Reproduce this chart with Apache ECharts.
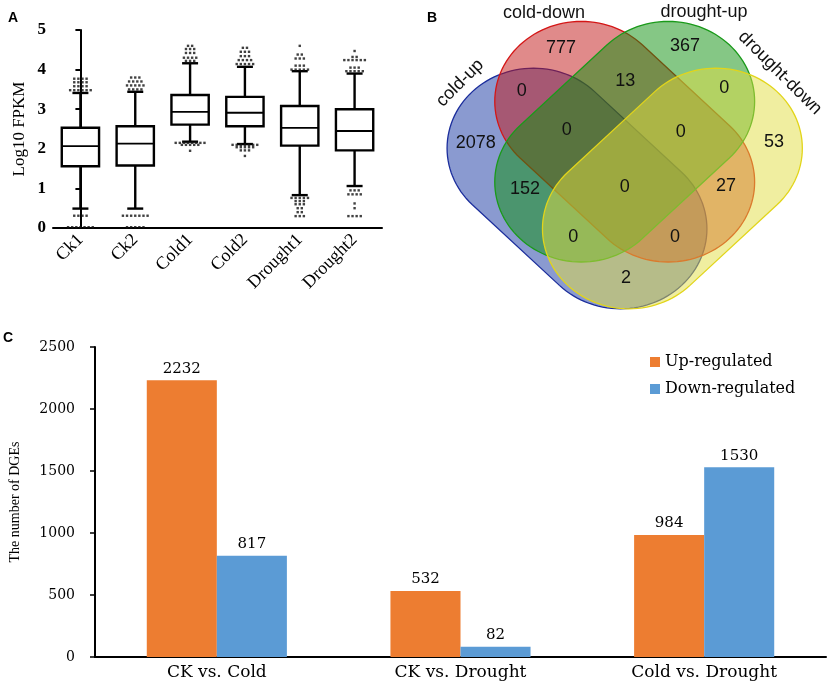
<!DOCTYPE html>
<html><head><meta charset="utf-8">
<script src="https://cdn.jsdelivr.net/npm/echarts@6/dist/echarts.min.js"></script>
<style>html,body{margin:0;padding:0;background:#fff}#c{width:829px;height:684px}</style>
</head><body><div id="c"></div>
<script>
// ---------- Panel A: boxplot ----------
const boxCategories = ['Ck1', 'Ck2', 'Cold1', 'Cold2', 'Drought1', 'Drought2'];
// [lower whisker, Q1, median, Q3, upper whisker]
const boxStats = [
  [0.49, 1.56, 2.07, 2.53, 3.41],
  [0.49, 1.58, 2.13, 2.57, 3.44],
  [2.18, 2.61, 2.93, 3.36, 4.16],
  [2.12, 2.57, 2.91, 3.31, 4.07],
  [0.83, 2.08, 2.53, 3.08, 3.96],
  [1.06, 1.96, 2.45, 3.00, 3.90]
];
const outliersCk1 = [3.48,3.48,3.48,3.48,3.48,3.48, 3.58,3.58,3.58,3.58, 3.68,3.68,3.68,3.68, 3.77,3.77,3.77,3.77, 0.31,0.31,0.31,0.31, 0.02,0.02,0.02,0.02,0.02,0.02,0.02];
const outliersCk2 = [3.5,3.5,3.5,3.5, 3.6,3.6,3.6,3.6,3.6, 3.7,3.7,3.7,3.7, 3.8,3.8,3.8, 0.31,0.31,0.31,0.31,0.31,0.31,0.31, 0.02,0.02,0.02,0.02,0.02];
const outliersCold1 = [4.22,4.22,4.22, 4.3,4.3,4.3,4.3, 4.42,4.42,4.42, 4.52,4.52,4.52, 4.6,4.6, 2.15,2.15,2.15,2.15,2.15,2.15,2.15,2.15, 2.1,2.1,2.1,2.1,2.1, 1.95];
const outliersCold2 = [4.14,4.14,4.14,4.14,4.14, 4.24,4.24,4.24,4.24, 4.34,4.34,4.34, 4.45,4.45,4.45, 4.55,4.55, 2.1,2.1,2.1,2.1,2.1,2.1,2.1, 2.04,2.04,2.04,2.04,2.04, 1.96,1.96,1.96, 1.82];
const outliersDrought1 = [4.0,4.0,4.0,4.0,4.0, 4.1,4.1,4.1, 4.28,4.28,4.28, 4.38,4.38, 4.6, 0.76,0.76,0.76,0.76,0.76, 0.68,0.68,0.68, 0.6,0.6,0.6, 0.5,0.5, 0.4,0.4, 0.3,0.3,0.3];
const outliersDrought2 = [3.96,3.96,3.96,3.96,3.96, 4.05,4.05,4.05, 4.24,4.24,4.24,4.24,4.24,4.24, 4.32,4.32, 4.47, 0.95,0.95,0.95, 0.85,0.85,0.85,0.85, 0.62, 0.5, 0.3,0.3,0.3,0.3];
const boxOutliers = [outliersCk1, outliersCk2, outliersCold1, outliersCold2, outliersDrought1, outliersDrought2];

// ---------- Panel B: Venn ----------
const vennSets = ['cold-up', 'cold-down', 'drought-up', 'drought-down'];
const vennCounts = [777, 367, 0, 13, 0, 2078, 0, 0, 53, 152, 0, 27, 0, 0, 2];

// ---------- Panel C: bars ----------
const barCategories = ['CK vs. Cold', 'CK vs. Drought', 'Cold vs. Drought'];
const upRegulated = [2232, 532, 984];
const downRegulated = [817, 82, 1530];
const barTicks = [0, 500, 1000, 1500, 2000, 2500];

// ---------- layout (not data) ----------
const VENN_OX = 400;
// capsule geometry in local px: cx, cy, half straight length L, radius r, angle(deg, clockwise on screen)
const vennShapes = [
  {cx: 177, cy: 188.5, L: 57, r: 80, ang: 45, fill: 'rgba(21,53,161,0.5)', stroke: '#1b2d9c'},
  {cx: 224.7, cy: 141.7, L: 57, r: 80, ang: 45, fill: 'rgba(193,21,21,0.5)', stroke: '#d41616'},
  {cx: 224.7, cy: 141.7, L: 57, r: 80, ang: -45, fill: 'rgba(11,143,11,0.5)', stroke: '#1a9a1a'},
  {cx: 272.4, cy: 188.5, L: 57, r: 80, ang: -45, fill: 'rgba(225,221,65,0.5)', stroke: '#e2d51a'}
];
const VENN_SX = 1.08;
const vennCountPos = [[161,48],[285,45.7],[121.7,90.7],[225.3,81],[324.3,87.7],[75.7,142.7],[166.7,130],[280.7,131.7],[374,141.7],[125,189.3],[224.7,186.7],[326,186],[173.3,237.3],[275,236.7],[226,278.3]];
const vennSetPos = [[60,83,45],[144,13,0],[304,12,0],[380,73,-45]];

// outlier points: spread equal values horizontally around the category centre
const outlierPoints = [];
boxOutliers.forEach((vals, ci) => {
  const groups = {};
  vals.forEach(v => { (groups[v] = groups[v] || []).push(v); });
  Object.keys(groups).forEach(k => {
    const g = groups[k];
    g.forEach((v, j) => outlierPoints.push([ci + (j - (g.length - 1) / 2) * 0.075, v]));
  });
});

const serif = 'Liberation Serif';
const wideSerif = 'DejaVu Serif';

const chart = echarts.init(document.getElementById('c'), null, {renderer: 'canvas'});
chart.setOption({
  animation: false,
  backgroundColor: '#fff',
  grid: [
    {left: 53, top: 30, width: 329, height: 198},
    {left: 93, top: 347, width: 733, height: 310},
    {left: VENN_OX, top: 0, width: 429, height: 330}
  ],
  xAxis: [
    {gridIndex: 0, type: 'category', data: boxCategories,
      axisLine: {lineStyle: {color: '#000', width: 2}},
      axisTick: {alignWithLabel: true, length: 5, lineStyle: {color: '#000', width: 2}},
      axisLabel: {rotate: 45, color: '#000', fontFamily: serif, fontSize: 18, margin: 9}},
    {gridIndex: 0, type: 'value', min: -0.5, max: 5.5, show: false},
    {gridIndex: 1, type: 'category', data: barCategories,
      axisLine: {lineStyle: {color: '#000', width: 2}},
      axisTick: {show: false},
      axisLabel: {color: '#000', fontFamily: wideSerif, fontSize: 17, margin: 7}},
    {gridIndex: 2, type: 'value', min: 0, max: 429, show: false}
  ],
  yAxis: [
    {gridIndex: 0, type: 'value', min: 0, max: 5, interval: 1,
      name: 'Log10 FPKM', nameLocation: 'middle', nameGap: 25,
      nameTextStyle: {color: '#000', fontFamily: serif, fontSize: 17},
      axisLine: {show: true, lineStyle: {color: '#000', width: 2}},
      axisTick: {show: true, length: 5, lineStyle: {color: '#000', width: 2}},
      axisLabel: {color: '#000', fontFamily: serif, fontWeight: 'bold', fontSize: 17, margin: 7},
      splitLine: {show: false}},
    {gridIndex: 1, type: 'value', min: 0, max: 2500, interval: 500,
      name: 'The number of DGEs', nameLocation: 'middle', nameGap: 73,
      nameTextStyle: {color: '#000', fontFamily: serif, fontSize: 14},
      axisLine: {show: true, lineStyle: {color: '#000', width: 2}},
      axisTick: {show: true, length: 5, lineStyle: {color: '#000', width: 1.5}},
      axisLabel: {color: '#000', fontFamily: wideSerif, fontSize: 14, margin: 20,
        formatter: v => barTicks.indexOf(v) >= 0 ? String(v) : ''},
      splitLine: {show: false}},
    {gridIndex: 2, type: 'value', min: 0, max: 330, inverse: true, show: false}
  ],
  legend: {
    orient: 'vertical', left: 645, top: 349, itemWidth: 10, itemHeight: 10, itemGap: 11,
    icon: 'rect', data: ['Up-regulated', 'Down-regulated'],
    textStyle: {color: '#000', fontFamily: wideSerif, fontSize: 16}
  },
  graphic: [
    {type: 'text', left: 8, top: 11, style: {text: 'A', font: 'bold 14px "Liberation Sans"', fill: '#000'}},
    {type: 'text', left: 427, top: 11, style: {text: 'B', font: 'bold 14px "Liberation Sans"', fill: '#000'}},
    {type: 'text', left: 3, top: 331, style: {text: 'C', font: 'bold 14px "Liberation Sans"', fill: '#000'}}
  ],
  series: [
    {
      type: 'custom', xAxisIndex: 0, yAxisIndex: 0,
      data: boxStats.map((s, i) => [i].concat(s)),
      encode: {x: 0, y: [1, 2, 3, 4, 5]},
      renderItem: function (params, api) {
        const i = api.value(0);
        const pLo = api.coord([i, api.value(1)]);
        const pQ1 = api.coord([i, api.value(2)]);
        const pMed = api.coord([i, api.value(3)]);
        const pQ3 = api.coord([i, api.value(4)]);
        const pHi = api.coord([i, api.value(5)]);
        const bw = api.size([1, 0])[0] * 0.68;
        const cw = 16;
        const x = pQ1[0];
        const st = {stroke: '#000', lineWidth: 2.4, fill: null};
        return {type: 'group', children: [
          {type: 'line', shape: {x1: x, y1: pHi[1], x2: x, y2: pQ3[1]}, style: st},
          {type: 'line', shape: {x1: x, y1: pQ1[1], x2: x, y2: pLo[1]}, style: st},
          {type: 'line', shape: {x1: x - cw / 2, y1: pHi[1], x2: x + cw / 2, y2: pHi[1]}, style: st},
          {type: 'line', shape: {x1: x - cw / 2, y1: pLo[1], x2: x + cw / 2, y2: pLo[1]}, style: st},
          {type: 'rect', shape: {x: x - bw / 2, y: pQ3[1], width: bw, height: pQ1[1] - pQ3[1]}, style: {stroke: '#000', lineWidth: 2.4, fill: '#fff'}},
          {type: 'line', shape: {x1: x - bw / 2, y1: pMed[1], x2: x + bw / 2, y2: pMed[1]}, style: {stroke: '#000', lineWidth: 1.8}}
        ]};
      }
    },
    {
      type: 'scatter', xAxisIndex: 1, yAxisIndex: 0, data: outlierPoints,
      symbol: 'rect', symbolSize: 2.4, itemStyle: {color: '#111'}, z: 5
    },
    {
      name: 'Up-regulated', type: 'bar', xAxisIndex: 2, yAxisIndex: 1, data: upRegulated,
      barGap: '0%', barCategoryGap: '42.5%',
      itemStyle: {color: '#ED7D31'},
      label: {show: true, position: 'top', distance: 4, color: '#000', fontFamily: wideSerif, fontSize: 15}
    },
    {
      name: 'Down-regulated', type: 'bar', xAxisIndex: 2, yAxisIndex: 1, data: downRegulated,
      barGap: '0%', barCategoryGap: '42.5%',
      itemStyle: {color: '#5B9BD5'},
      label: {show: true, position: 'top', distance: 4, color: '#000', fontFamily: wideSerif, fontSize: 15}
    },
    {
      type: 'custom', xAxisIndex: 3, yAxisIndex: 2,
      data: vennSets.map((s, i) => [i]),
      renderItem: function (params, api) {
        const e = vennShapes[api.value(0)];
        const t = e.ang * Math.PI / 180;
        const local = [];
        const N = 60;
        for (let k = 0; k <= N; k++) {
          const u = -Math.PI / 2 + k / N * Math.PI;
          local.push([e.L + e.r * Math.cos(u), e.r * Math.sin(u)]);
        }
        for (let k = 0; k <= N; k++) {
          const u = Math.PI / 2 + k / N * Math.PI;
          local.push([-e.L + e.r * Math.cos(u), e.r * Math.sin(u)]);
        }
        const pts = local.map(([lx, ly]) => api.coord([
          e.cx + VENN_SX * (lx * Math.cos(t) - ly * Math.sin(t)),
          e.cy + lx * Math.sin(t) + ly * Math.cos(t)
        ]));
        return {type: 'polygon', shape: {points: pts}, style: {fill: e.fill, stroke: e.stroke, lineWidth: 1.3}};
      }
    },
    {
      type: 'custom', xAxisIndex: 3, yAxisIndex: 2, z: 10,
      data: vennCounts.map((c, i) => [i, c]),
      renderItem: function (params, api) {
        const i = api.value(0);
        const p = api.coord(vennCountPos[i]);
        return {type: 'text', x: p[0], y: p[1], style: {text: String(api.value(1)), font: '18px "Liberation Sans"', fill: '#111', align: 'center', verticalAlign: 'middle'}};
      }
    },
    {
      type: 'custom', xAxisIndex: 3, yAxisIndex: 2, z: 10,
      data: vennSets.map((s, i) => [i]),
      renderItem: function (params, api) {
        const i = api.value(0);
        const q = vennSetPos[i];
        const p = api.coord([q[0], q[1]]);
        return {type: 'text', x: p[0], y: p[1], rotation: q[2] * Math.PI / 180,
          style: {text: vennSets[i], font: '18px "Liberation Sans"', fill: '#111', align: 'center', verticalAlign: 'middle'}};
      }
    }
  ]
});
</script>
</body></html>
